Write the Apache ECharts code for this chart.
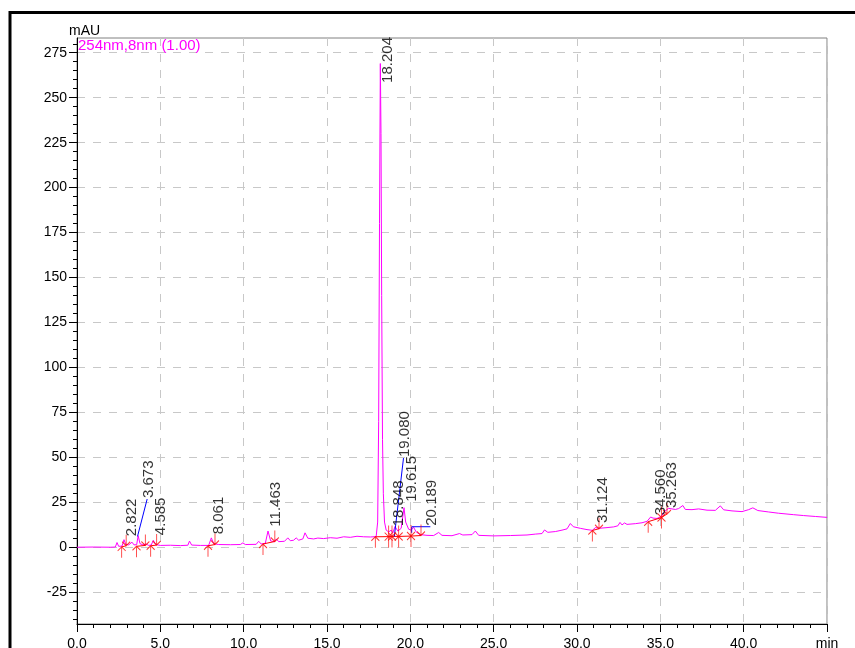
<!DOCTYPE html>
<html><head><meta charset="utf-8">
<script src="https://cdn.jsdelivr.net/npm/echarts@6/dist/echarts.min.js"></script>
<style>html,body{margin:0;padding:0;background:#fff}#c{width:855px;height:648px}</style>
</head><body><div id="c"></div>
<script>
// ---------- data ----------
const traceT = [0.00,1.00,2.00,2.30,2.40,2.50,2.70,2.82,2.92,3.10,3.30,3.42,3.58,3.67,3.78,3.95,4.15,4.30,4.45,4.58,4.72,5.00,5.60,6.20,6.65,6.75,6.88,7.40,7.90,8.06,8.20,8.50,9.20,9.80,9.95,10.10,10.75,10.90,11.05,11.30,11.46,11.62,11.85,11.96,12.10,12.45,12.65,12.80,13.00,13.15,13.30,13.55,13.68,13.85,14.20,14.45,14.80,15.20,15.60,16.00,16.40,16.80,17.20,17.60,17.95,18.04,18.10,18.15,18.20,18.24,18.28,18.33,18.38,18.45,18.55,18.70,18.85,18.95,19.08,19.25,19.45,19.62,19.72,19.90,20.05,20.19,20.35,20.60,21.00,21.40,21.70,21.90,22.50,22.95,23.15,23.70,23.90,24.10,25.00,26.00,27.00,27.50,27.90,28.05,28.25,28.70,29.10,29.40,29.60,29.78,30.20,30.60,30.92,31.12,31.30,31.80,32.20,32.45,32.58,32.70,32.85,33.00,33.50,33.90,34.20,34.42,34.56,34.80,35.07,35.26,35.50,35.90,36.10,36.35,36.50,36.90,37.30,37.80,38.30,38.60,38.80,39.30,39.90,40.30,40.55,40.85,41.50,42.10,43.00,43.60,44.30,45.00];
const traceV = [0.0,0.1,0.0,0.1,2.6,0.5,0.6,4.2,1.6,1.3,2.8,1.3,1.4,6.4,2.0,1.3,1.8,1.0,1.2,3.8,1.5,1.0,1.1,0.9,1.1,3.4,1.2,1.0,1.0,5.2,2.0,1.5,1.4,1.5,2.4,1.5,1.6,3.3,1.8,2.2,9.0,3.5,3.0,4.6,3.1,3.3,5.2,3.6,3.9,5.2,3.9,4.6,8.0,5.0,4.6,5.1,4.8,5.3,5.0,5.8,5.5,6.1,5.8,5.7,5.9,14,70,180,269,230,140,60,30,14,9.5,8.5,9.5,8.0,11.5,9.0,10.5,22,14,10,9.5,11.2,8.5,7.0,6.6,6.5,8.2,6.6,6.4,7.6,6.8,7.0,9.0,6.6,6.3,6.5,6.8,7.3,7.6,9.6,8.3,8.7,9.5,10.2,13.2,11.4,10.5,9.8,9.4,11.0,10.5,10.9,11.3,11.9,13.8,12.4,13.5,12.7,13.1,13.6,14.4,16.8,16.2,16.0,17.2,20.0,21.6,21.0,21.5,23.2,21.0,20.9,21.3,20.6,20.5,23.0,20.8,20.2,19.8,20.9,21.9,20.4,19.6,18.9,18.1,17.6,17.1,16.6];

// detected peaks (retention time, apex height)
const peakRT = [2.822,3.673,4.585,8.061,11.463,18.204,18.848,19.080,19.615,20.189,31.124,34.560,35.263];
const peakH  = [3.9,6.4,4.5,5.0,9.2,269,9.4,11.5,23.0,11.2,11.2,15.5,19.6];

// integration marks (time, baseline value)
const startT = [2.68,3.57,4.42,7.86,11.16,17.90,30.92,34.27];
const startV = [0.2,0.5,0.8,0.8,1.8,5.8,9.3,14.2];
const endT   = [2.95,4.10,4.78,8.28,11.87,20.64,31.32,35.40];
const endV   = [0.8,1.0,1.2,1.5,3.2,6.5,10.3,18.5];
const splitT = [18.70,18.90,19.30,20.04,35.07];
const splitV = [5.9,6.0,6.0,6.2,16.5];

// label leader lines (peak label -> path in data coords)
const leaderPeak = ['3.673','19.080','20.189'];
const leaderT = [[3.63,4.21],[19.04,19.59],[20.08,20.08,21.20]];
const leaderV = [[6.0,26.8],[6.0,49.6],[8.0,11.4,11.4]];

const yTicks = [-25,0,25,50,75,100,125,150,175,200,225,250,275];
const yMinor = [];
for (let v = -40; v <= 280; v += 5) yMinor.push(v);

// ---------- build ----------
const FONT = 'Liberation Sans, Arial, Helvetica, sans-serif';
const Y_MIN = -42.7, Y_MAX = 283.2;
const labelCeil = 256.0;

const upArrow = 'path://M4,0 L4,11 M0,4 L4,0 L8,4';
const downArrow = 'path://M4,0 L4,11 M0,7 L4,11 L8,7';

const trace = traceT.map((t,i)=>[t, traceV[i]]);

const series = [];
series.push({
  type:'line', data:trace, showSymbol:false, symbol:'none',
  lineStyle:{color:'#ff00ff', width:1}, itemStyle:{color:'#ff00ff'}, z:3, silent:true
});

// baselines
startT.forEach((s,k)=>{
  const pts = [[s, startV[k]]];
  splitT.forEach((t,j)=>{ if (t > s && t < endT[k]) pts.push([t, splitV[j]]); });
  pts.push([endT[k], endV[k]]);
  series.push({type:'line', data:pts, showSymbol:false, symbol:'none',
    lineStyle:{color:'#ff0000', width:1}, z:4, silent:true});
});

// markers
const markStyle = {color:'none', borderColor:'#ff0000', borderWidth:1};
series.push({type:'scatter', symbol:upArrow, symbolSize:[8,11], symbolOffset:[0,5.5],
  itemStyle:markStyle, z:5, silent:true,
  data: startT.map((t,i)=>[t,startV[i]]).concat(splitT.map((t,i)=>[t,splitV[i]]))});
series.push({type:'scatter', symbol:downArrow, symbolSize:[8,11], symbolOffset:[0,-5.5],
  itemStyle:markStyle, z:5, silent:true,
  data: endT.map((t,i)=>[t,endV[i]]).concat(splitT.map((t,i)=>[t,splitV[i]]))});

// leader lines
leaderT.forEach((ts,k)=>{
  series.push({type:'line', data: ts.map((t,i)=>[t, leaderV[k][i]]), showSymbol:false, symbol:'none',
    lineStyle:{color:'#0000ff', width:1}, z:4, silent:true});
});

// labels
const normalLbl = [], leaderLbl = [];
peakRT.forEach((rt,i)=>{
  const txt = rt.toFixed(3);
  const li = leaderPeak.indexOf(txt);
  if (li >= 0) {
    const ts = leaderT[li], vs = leaderV[li];
    leaderLbl.push({value:[ts[ts.length-1], vs[vs.length-1]], name:txt});
  } else {
    normalLbl.push({value:[rt, Math.min(peakH[i], labelCeil)], name:txt});
  }
});
const lblBase = {show:true, formatter:p=>p.name, rotate:90, align:'left', verticalAlign:'middle',
  color:'#000', fontSize:15, fontFamily:FONT};
series.push({type:'scatter', data:normalLbl, symbolSize:1, itemStyle:{color:'rgba(0,0,0,0)'}, z:6, silent:true,
  label:Object.assign({}, lblBase, {position:[8,-3.5]})});
series.push({type:'scatter', data:leaderLbl, symbolSize:1, itemStyle:{color:'rgba(0,0,0,0)'}, z:6, silent:true,
  label:Object.assign({}, lblBase, {position:[2,-0.5]})});

const chart = echarts.init(document.getElementById('c'), null, {renderer:'canvas'});
chart.setOption({
  animation:false,
  backgroundColor:'#fff',
  grid:{left:77, right:28, top:38, bottom:24, show:true, borderColor:'#808080', borderWidth:1,
    outerBoundsMode:'none', containLabel:false},
  xAxis:{type:'value', min:0, max:45, interval:5,
    axisLine:{show:true, onZero:false, lineStyle:{color:'#000', width:1}},
    axisTick:{show:true, length:8, lineStyle:{color:'#000'}},
    minorTick:{show:true, splitNumber:5, length:4, lineStyle:{color:'#000'}},
    axisLabel:{color:'#000', fontSize:14, fontFamily:FONT, margin:13,
      formatter:v=> v===45 ? 'min' : v.toFixed(1)},
    splitLine:{show:true, lineStyle:{color:'#c8c8c8', type:[8,8]}}
  },
  yAxis:[{type:'value', min:Y_MIN, max:Y_MAX, position:'left',
    axisLine:{show:true, onZero:false, lineStyle:{color:'#000', width:1}},
    axisTick:{show:true, length:8, customValues:yTicks, lineStyle:{color:'#000'}},
    axisLabel:{customValues:yTicks, color:'#000', fontSize:14, fontFamily:FONT, margin:10,
      formatter:v=>String(Math.round(v))},
    splitLine:{show:true, lineStyle:{color:'#c8c8c8', type:[8,8]}}
  },{type:'value', min:Y_MIN, max:Y_MAX, position:'left', offset:0,
    axisLine:{show:false},
    axisTick:{show:true, length:4, customValues:yMinor, lineStyle:{color:'#000'}},
    axisLabel:{show:false},
    splitLine:{show:false}
  }],
  graphic:[
    {type:'rect', shape:{x:10, y:12.5, width:1000, height:1000}, style:{fill:'none', stroke:'#000', lineWidth:3}, silent:true},
    {type:'text', x:69, y:24, style:{text:'mAU', fill:'#000', font:'14px '+FONT, verticalAlign:'top'}, silent:true},
    {type:'text', x:78, y:38, style:{text:'254nm,8nm (1.00)', fill:'#ff00ff', font:'15px '+FONT, verticalAlign:'top'}, silent:true, z:10}
  ],
  series: series
});
</script>
</body></html>
